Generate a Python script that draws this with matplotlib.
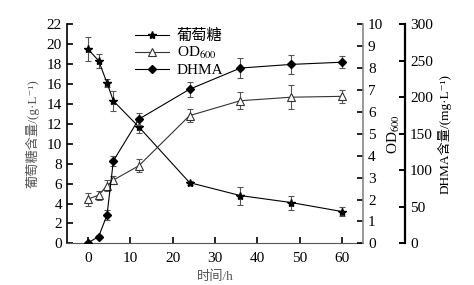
import matplotlib.pyplot as plt
from matplotlib.lines import Line2D

plt.rcParams['font.family'] = ['Liberation Serif', 'Noto Sans CJK SC', 'DejaVu Serif']
plt.rcParams['mathtext.fontset'] = 'stix'

# sampling time (h)
time_h = [0, 2.5, 4.5, 6, 12, 24, 36, 48, 60]

# glucose, g/L
glucose = [19.5, 18.35, 16.1, 14.3, 11.7, 6.1, 4.8, 4.1, 3.2]
glucose_err = [1.2, 0.7, 0.4, 1.0, 0.6, 0.2, 0.9, 0.7, 0.5]

# OD600
od600 = [2.02, 2.2, 2.63, 2.89, 3.54, 5.83, 6.51, 6.67, 6.71]
od600_err = [0.3, 0.2, 0.25, 0.2, 0.3, 0.3, 0.4, 0.55, 0.3]

# DHMA, mg/L
dhma = [1, 9, 39, 113, 170, 211, 240, 245, 248]
dhma_err = [0, 2, 7, 7, 8, 10, 14, 13, 8]

fig = plt.figure(figsize=(4.74, 2.85), dpi=100)
ax = fig.add_axes([0.141, 0.146, 0.625, 0.769])
ax_od = ax.twinx()
ax_dh = ax.twinx()

ecol = '#555555'
fs = 11
lfs = 9.5

ax.errorbar(time_h, glucose, yerr=glucose_err, fmt='none', ecolor=ecol,
            elinewidth=0.8, capsize=2.5, capthick=0.8)
ax.plot(time_h, glucose, color='black', lw=0.8, marker='*', ms=6)

ax_od.errorbar(time_h, od600, yerr=od600_err, fmt='none', ecolor=ecol,
               elinewidth=0.8, capsize=2.5, capthick=0.8)
ax_od.plot(time_h, od600, color='#333333', lw=0.8, marker='^', ms=6,
           mfc='white', mec='#333333', mew=0.8)

ax_dh.errorbar(time_h, dhma, yerr=dhma_err, fmt='none', ecolor=ecol,
               elinewidth=0.8, capsize=2.5, capthick=0.8)
ax_dh.plot(time_h, dhma, color='black', lw=0.8, marker='D', ms=4.5)

ax.set_xlim(-5, 65)
ax.set_ylim(0, 22)
ax.set_xticks(range(0, 61, 10))
ax.set_yticks(range(0, 23, 2))
ax.tick_params(direction='in', labelsize=fs, length=4, width=1.2)
ax.tick_params(axis='x', pad=6)
ax.spines['top'].set_visible(False)
ax.spines['right'].set_visible(False)
ax.spines['bottom'].set_color('#555555')
ax.spines['left'].set_linewidth(1.2)
ax.set_xlabel('时间/h', fontsize=lfs, color='#555555', labelpad=4)
ax.set_ylabel('葡萄糖含量/(g·L⁻¹)', fontsize=lfs, color='#555555', labelpad=5)

ax_od.set_ylim(0, 10)
ax_od.set_yticks(range(0, 11))
ax_od.tick_params(direction='in', labelsize=fs, length=4, width=1.2)
for s in ['top', 'left', 'bottom']:
    ax_od.spines[s].set_visible(False)
ax_od.spines['right'].set_color('#888888')
ax_od.spines['right'].set_linewidth(1.2)
ax_od.set_ylabel('OD$_{600}$', fontsize=fs, labelpad=2)

ax_dh.set_ylim(0, 300)
ax_dh.set_yticks(range(0, 301, 50))
ax_dh.spines['right'].set_position(('axes', 1.142))
ax_dh.spines['right'].set_linewidth(1.6)
for s in ['top', 'left', 'bottom']:
    ax_dh.spines[s].set_visible(False)
ax_dh.tick_params(direction='in', labelsize=fs, length=4, width=1.4)
ax_dh.set_ylabel('DHMA含量/(mg·L⁻¹)', fontsize=lfs, labelpad=3)

handles = [
    Line2D([], [], color='black', lw=0.8, marker='*', ms=6),
    Line2D([], [], color='#333333', lw=0.8, marker='^', ms=6, mfc='white', mew=0.8),
    Line2D([], [], color='black', lw=0.8, marker='D', ms=4.5),
]
ax.legend(handles, ['葡萄糖', 'OD$_{600}$', 'DHMA'], loc='upper left',
          bbox_to_anchor=(0.2, 1.02), frameon=False, fontsize=fs,
          handlelength=2.2, handletextpad=0.5, labelspacing=0.15, borderaxespad=0.2)

fig.savefig('out.png', dpi=100)
